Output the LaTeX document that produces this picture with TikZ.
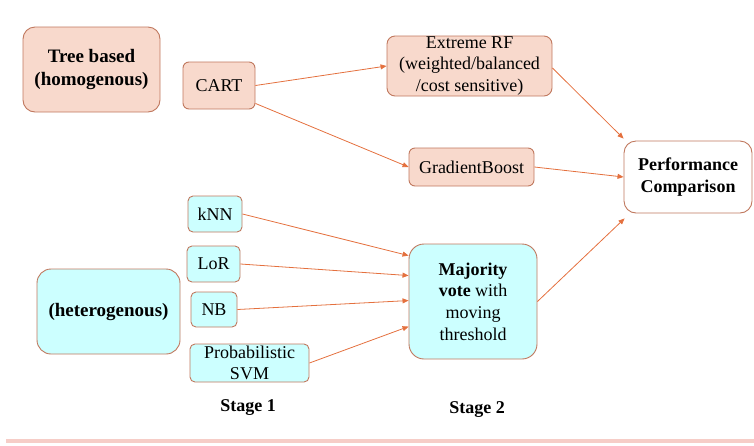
\documentclass[tikz,border=0pt]{standalone}
\usepackage{fontspec}
\setmainfont{LiberationSerif}[Extension=.ttf,UprightFont=*-Regular,BoldFont=*-Bold,ItalicFont=*-Italic,BoldItalicFont=*-BoldItalic]
\usetikzlibrary{arrows.meta}
\definecolor{peach}{HTML}{F8D9CC}
\definecolor{aqua}{HTML}{CCFFFF}
\definecolor{edge}{HTML}{C0785E}
\definecolor{wire}{HTML}{E4703E}
\definecolor{band}{HTML}{F6CDC7}
\begin{document}
\begin{tikzpicture}[x=1pt,y=-1pt,
  box/.style={draw=edge,line width=0.9pt,inner sep=0pt,align=center,
    font=\fontsize{18}{21.6}\selectfont},
  warm/.style={box,fill=peach},
  cool/.style={box,fill=aqua},
  plain/.style={box,fill=white},
  link/.style={draw=wire,line width=0.8pt,-{Triangle[length=6pt,width=5pt]}},
  stage/.style={font=\fontsize{18}{21.6}\selectfont\bfseries}]
\useasboundingbox (0,0) rectangle (754,445);
\fill[band] (6,439) rectangle (754,443);

% Stage 1 learners
\node[warm,rounded corners=12pt,minimum width=137pt,minimum height=85pt,
  font=\fontsize{19}{22.7}\selectfont\bfseries] (tree) at (91.5,69.5) {Tree based\\(homogenous)};
\node[warm,rounded corners=6pt,minimum width=72pt,minimum height=47pt] (cart) at (219,85.5) {CART};
\node[cool,rounded corners=14pt,minimum width=143pt,minimum height=85pt,
  font=\fontsize{19}{22.7}\selectfont\bfseries] (het) at (108.5,311.5) {(heterogenous)};
\node[cool,rounded corners=5pt,minimum width=54pt,minimum height=36pt] (knn) at (215,214) {kNN};
\node[cool,rounded corners=5pt,minimum width=53pt,minimum height=36pt] (lor) at (213.5,264) {LoR};
\node[cool,rounded corners=5pt,minimum width=46pt,minimum height=35pt] (nb) at (214,309.5) {NB};
\node[cool,rounded corners=5pt,minimum width=119pt,minimum height=38pt] (svm) at (249.5,363) {Probabilistic\\SVM};

% Stage 2 models
\node[warm,rounded corners=8pt,minimum width=165pt,minimum height=60pt] (erf) at (469.5,66) {Extreme RF\\(weighted/balanced\\/cost sensitive)};
\node[warm,rounded corners=6pt,minimum width=125pt,minimum height=38pt] (gb) at (471.5,167) {GradientBoost};
\node[cool,rounded corners=15pt,minimum width=128pt,minimum height=115pt] (vote) at (473,301.5)
  {\textbf{Majority}\\\textbf{vote} with\\moving\\threshold};

% Final comparison
\node[plain,rounded corners=12pt,minimum width=128pt,minimum height=72pt,
  font=\fontsize{18}{21.6}\selectfont\bfseries] (perf) at (688,177) {Performance\\Comparison};

% Captions
\node[stage] (s1) at (248,408) {Stage 1};
\node[stage] (s2) at (477,410) {Stage 2};

% Connectors
\draw[link] (cart.east) -- (erf.west);
\draw[link] (cart.south east) ++(0,-6) coordinate (cartlow) -- (gb.west);
\draw[link] (erf.east) ++(0,2) -- ([yshift=2pt]perf.north west);
\draw[link] (gb.east) -- (perf.west);
\draw[link] (vote.east) -- ([xshift=1pt,yshift=-5pt]perf.south west);
\draw[link] (knn.east) -- ([yshift=-12pt]vote.north west);
\draw[link] (lor.east) -- ([yshift=-32pt]vote.north west);
\draw[link] (nb.east) -- ([yshift=-57pt]vote.north west);
\draw[link] (svm.east) -- ([yshift=-83pt]vote.north west);
\end{tikzpicture}
\end{document}
